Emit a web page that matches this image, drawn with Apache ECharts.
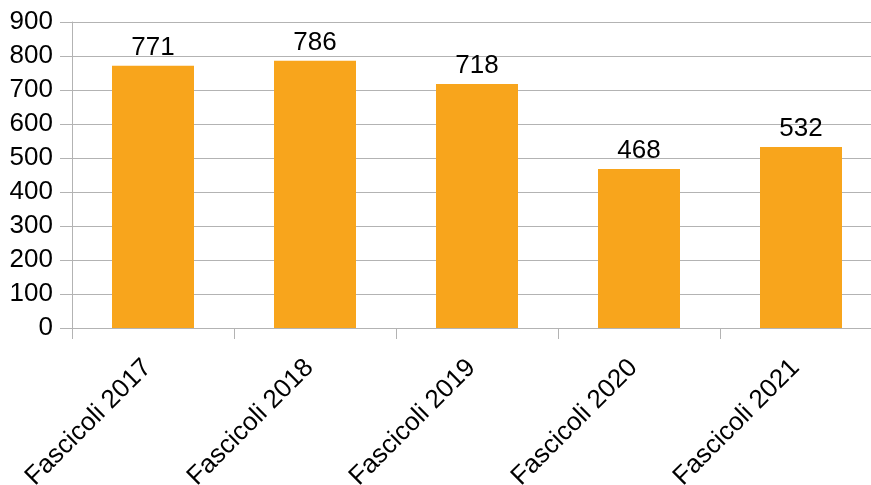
<!DOCTYPE html>
<html>
<head>
<meta charset="utf-8">
<script src="https://cdn.jsdelivr.net/npm/echarts@6/dist/echarts.min.js"></script>
<style>
  html, body { margin: 0; padding: 0; background: #fff; }
  #chart { width: 871px; height: 485px; }
</style>
</head>
<body>
<div id="chart"></div>
<script>
  // dati del grafico
  var categories = ['Fascicoli 2017', 'Fascicoli 2018', 'Fascicoli 2019', 'Fascicoli 2020', 'Fascicoli 2021']
  var values = [771, 786, 718, 468, 532]

  var chart = echarts.init(document.getElementById('chart'))
  var font = '"Liberation Sans", Arial, sans-serif'

  var option = {
    animation: false,
    grid: {
      left: 72,
      top: 22,
      width: 810,
      height: 306,
      outerBoundsMode: 'none',
      containLabel: false
    },
    xAxis: {
      type: 'category',
      data: categories,
      axisLine: { lineStyle: { color: '#b3b3b3', width: 1 } },
      axisTick: { show: true, length: 11, lineStyle: { color: '#b3b3b3' } },
      axisLabel: {
        rotate: 45,
        margin: 30,
        padding: [0, 8, 0, 0],
        fontSize: 26,
        fontFamily: font,
        color: '#000'
      }
    },
    yAxis: {
      type: 'value',
      min: 0,
      max: 900,
      interval: 100,
      axisLine: { show: true, lineStyle: { color: '#b3b3b3' } },
      axisTick: { show: true, length: 12, lineStyle: { color: '#b3b3b3' } },
      splitLine: { lineStyle: { color: '#b3b3b3' } },
      axisLabel: {
        margin: 19,
        fontSize: 26,
        fontFamily: font,
        color: '#000'
      }
    },
    series: [{
      type: 'bar',
      data: values,
      barWidth: 82,
      itemStyle: { color: '#f8a51c' },
      label: {
        show: true,
        position: 'top',
        distance: 5,
        fontSize: 26,
        fontFamily: font,
        color: '#000'
      }
    }]
  }

  chart.setOption(option)
  window.addEventListener('resize', function () {
    chart.resize()
  })
</script>
</body>
</html>
